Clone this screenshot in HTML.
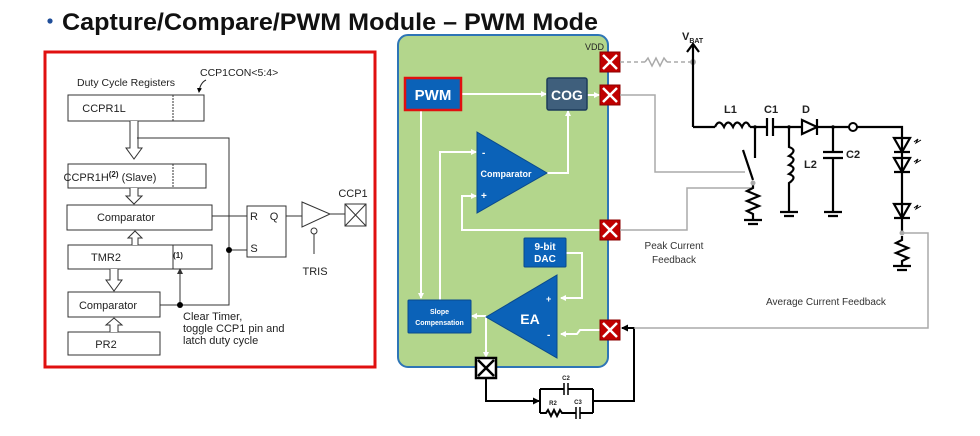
<!DOCTYPE html>
<html><head><meta charset="utf-8"><style>
html,body{margin:0;padding:0;background:#fff;width:980px;height:436px;overflow:hidden}
svg{display:block;font-family:"Liberation Sans",Arial,sans-serif}
</style></head><body>
<svg width="980" height="436" viewBox="0 0 980 436" xmlns="http://www.w3.org/2000/svg">
<defs>
<marker id="wa" markerWidth="6" markerHeight="6" refX="5" refY="3" orient="auto" markerUnits="userSpaceOnUse"><path d="M0,0 L6,3 L0,6z" fill="#fff"/></marker>
<marker id="ba" markerWidth="7" markerHeight="7" refX="6" refY="3.5" orient="auto" markerUnits="userSpaceOnUse"><path d="M0,0 L7,3.5 L0,7z" fill="#000"/></marker>
<marker id="sa" markerWidth="5" markerHeight="5" refX="4" refY="2.5" orient="auto" markerUnits="userSpaceOnUse"><path d="M0,0 L5,2.5 L0,5z" fill="#000"/></marker>
</defs>
<!-- title -->
<circle cx="50" cy="21" r="2.6" fill="#1f4e99"/>
<text x="62" y="30" font-size="24" font-weight="bold" fill="#111" textLength="536" lengthAdjust="spacingAndGlyphs">Capture/Compare/PWM Module – PWM Mode</text>

<!-- left panel -->
<rect x="45" y="52" width="330" height="315" fill="#fff" stroke="#e01010" stroke-width="3"/>
<g font-size="10.5" fill="#222" stroke="none">
<text x="77" y="86">Duty Cycle Registers</text>
<text x="200" y="76">CCP1CON&lt;5:4&gt;</text>
</g>
<path d="M206,80 Q200,83 199,92" fill="none" stroke="#222" stroke-width="1" marker-end="url(#sa)"/>
<g fill="#fff" stroke="#333" stroke-width="1">
<rect x="68" y="95" width="136" height="26"/>
<rect x="68" y="164" width="138" height="24"/>
<rect x="67" y="205" width="145" height="25"/>
<rect x="68" y="245" width="144" height="24"/>
<rect x="68" y="292" width="92" height="25"/>
<rect x="68" y="332" width="92" height="23"/>
<rect x="247" y="206" width="39" height="51"/>
</g>
<line x1="173" y1="95" x2="173" y2="121" stroke="#333" stroke-dasharray="2,1"/>
<line x1="173" y1="164" x2="173" y2="188" stroke="#333" stroke-dasharray="2,1"/>
<line x1="173" y1="245" x2="173" y2="269" stroke="#333"/>
<g font-size="11" fill="#222" text-anchor="middle">
<text x="104" y="112">CCPR1L</text>
<text x="110" y="181">CCPR1H<tspan font-size="8" dy="-4" font-weight="bold">(2)</tspan><tspan dy="4"> (Slave)</tspan></text>
<text x="126" y="221">Comparator</text>
<text x="106" y="261">TMR2</text>
<text x="178" y="258" font-size="8" font-weight="bold">(1)</text>
<text x="108" y="309">Comparator</text>
<text x="106" y="348">PR2</text>
<text x="254" y="220">R</text><text x="274" y="220">Q</text><text x="254" y="252">S</text>
<text x="353" y="197">CCP1</text>
<text x="315" y="275">TRIS</text>
</g>
<g font-size="11" fill="#222"><text x="183" y="320">Clear Timer,</text><text x="183" y="332">toggle CCP1 pin and</text><text x="183" y="344">latch duty cycle</text></g>
<!-- hollow arrows -->
<g fill="#fff" stroke="#333" stroke-width="1">
<path d="M130,121 V148 H126 L134,159 L142,148 H138 V121"/>
<path d="M130,188 V196 H126 L134,204 L142,196 H138 V188"/>
<path d="M132,245 V238 H128 L135,231 L142,238 H138 V245"/>
<path d="M110,269 V280 H106 L114,291 L122,280 H118 V269"/>
<path d="M110,332 V325 H106 L114,318 L122,325 H118 V332"/>
</g>
<g stroke="#333" stroke-width="1" fill="none">
<path d="M137,138 H229 V305 H160"/>
<path d="M212,216 H247"/><path d="M229,250 H247"/>
<path d="M286,216 H302"/><path d="M330,214 H345"/>
<path d="M314,234 V254"/>
<path d="M180,305 V272"/>
<path d="M302,202 L330,214 L302,227z"/>
<circle cx="314" cy="231" r="3"/>
<rect x="345" y="204" width="21" height="22"/><path d="M345,204 L366,226 M366,204 L345,226"/>
</g>
<path d="M177,274 L180,268 L183,274z" fill="#333"/>
<circle cx="229" cy="250" r="3" fill="#000"/><circle cx="180" cy="305" r="3" fill="#000"/>

<!-- green panel -->
<rect x="398" y="35" width="210" height="332" rx="10" fill="#b3d68c" stroke="#2e75b6" stroke-width="2"/>
<text x="585" y="50" font-size="9" fill="#222">VDD</text>
<g stroke="#fff" stroke-width="2" fill="none" marker-end="url(#wa)">
<path d="M461,94 H546"/>
<path d="M587,95 H599"/>
<path d="M547,173 H568 V111"/>
<path d="M421,110 V298"/>
<path d="M440,300 V152 H476"/>
<path d="M600,230 H462 V196 H476"/>
<path d="M566,253 H582 V298 H561"/>
<path d="M600,330 H580 L577,334 H561"/>
<path d="M486,316 H472"/>
<path d="M486,316 V357"/>
</g>
<rect x="405" y="78" width="56" height="32" fill="#0b62b8" stroke="#e01010" stroke-width="2.5"/>
<text x="433" y="100" font-size="15" font-weight="bold" fill="#fff" text-anchor="middle">PWM</text>
<rect x="547" y="78" width="40" height="32" rx="2" fill="#3f5f7c" stroke="#1d3b5a" stroke-width="1.5"/>
<text x="567" y="100" font-size="14" font-weight="bold" fill="#fff" text-anchor="middle">COG</text>
<path d="M477,132 L547,173 L477,213z" fill="#0b62b8" stroke="#0a4a8c"/>
<text x="506" y="177" font-size="9" font-weight="bold" fill="#fff" text-anchor="middle">Comparator</text>
<text x="482" y="156" font-size="10" font-weight="bold" fill="#fff">-</text>
<text x="481" y="199" font-size="10" font-weight="bold" fill="#fff">+</text>
<rect x="524" y="238" width="42" height="29" rx="1" fill="#0b62b8" stroke="#0a4a8c"/>
<text x="545" y="250" font-size="10" font-weight="bold" fill="#fff" text-anchor="middle">9-bit</text>
<text x="545" y="262" font-size="10" font-weight="bold" fill="#fff" text-anchor="middle">DAC</text>
<rect x="408" y="300" width="63" height="33" rx="1" fill="#0b62b8" stroke="#0a4a8c"/>
<text x="439.5" y="314" font-size="7" font-weight="bold" fill="#fff" text-anchor="middle">Slope</text>
<text x="439.5" y="325" font-size="7" font-weight="bold" fill="#fff" text-anchor="middle">Compensation</text>
<path d="M486,317 L557,275 L557,358z" fill="#0b62b8" stroke="#0a4a8c"/>
<text x="530" y="324" font-size="14" font-weight="bold" fill="#fff" text-anchor="middle">EA</text>
<text x="546" y="302" font-size="9" font-weight="bold" fill="#fff">+</text>
<text x="547" y="338" font-size="10" font-weight="bold" fill="#fff">-</text>
<!-- red pads -->
<g fill="#c00000" stroke="#8b0000" stroke-width="1">
<rect x="600" y="52" width="20" height="20"/><rect x="600" y="85" width="20" height="20"/>
<rect x="600" y="220" width="20" height="20"/><rect x="600" y="320" width="20" height="20"/>
</g>
<g stroke="#fff" stroke-width="2.5">
<path d="M603,55 L617,69 M617,55 L603,69"/><path d="M603,88 L617,102 M617,88 L603,102"/>
<path d="M603,223 L617,237 M617,223 L603,237"/><path d="M603,323 L617,337 M617,323 L603,337"/>
</g>
<rect x="476" y="358" width="20" height="20" fill="#fff" stroke="#000" stroke-width="2.5"/>
<path d="M478,360 L494,376 M494,360 L478,376" stroke="#000" stroke-width="2.5"/>
<!-- comp network -->
<g stroke="#000" stroke-width="2" fill="none">
<path d="M486,378 V401 H539" marker-end="url(#ba)"/>
<path d="M593,401 H634 V328 H622" marker-end="url(#ba)"/>
<path d="M540,389 V413 M593,389 V413 M540,389 H564 M568,389 H593 M540,413 H546 L548,410 L551,416 L554,410 L557,416 L560,410 L562,413 H576 M580,413 H593"/>
</g>
<g stroke="#000" stroke-width="1.5"><path d="M564,383 V395 M568,383 V395 M576,407 V419 M580,407 V419"/></g>
<g font-size="6" font-weight="bold" fill="#222" text-anchor="middle"><text x="566" y="380">C2</text><text x="553" y="405">R2</text><text x="578" y="404">C3</text></g>

<!-- right circuit gray lines -->
<g stroke="#aaa" stroke-width="1.5" fill="none">
<path d="M620,62 H645" stroke-dasharray="4,3"/>
<path d="M645,62 L648,58 L652,66 L656,58 L660,66 L664,58 L667,62"/>
<path d="M667,62 H693" stroke-dasharray="4,3"/>
<path d="M620,95 H655 V172 H745"/>
<path d="M620,230 H687 V188 H753"/>
<path d="M902,233 H928 V328 H634"/>
</g>
<circle cx="693" cy="62" r="3" fill="#aaa"/>
<g stroke="#000" stroke-width="2.2" fill="none">
<path d="M693,127 V44 M687,52 L693,44 L699,52"/>
<path d="M693,127 H715 M750,127 H767 M773,127 H802 M817,127 H849 M857,127 H902 V138"/>
<path d="M715,127 q4,-9 9,0 q4,-9 9,0 q4,-9 9,0 q4,-9 8,0"/>
<path d="M767,118 V136 M773,118 V136"/>
<path d="M802,120 L817,127 L802,134z M817,119 V135"/>
<path d="M755,127 V158 M743,150 L753,180"/>
<path d="M753,183 V188 L747,191 L759,196 L747,201 L759,206 L747,211 L753,214 V220 M744,220 H762 M748,224 H758"/>
<path d="M789,127 V147 q9,3 0,9 q9,3 0,9 q9,3 0,9 q9,3 0,9 V212 M780,212 H798 M784,216 H794"/>
<path d="M833,127 V152 M823,152 H843 M823,158 H843 M833,158 V212 M824,212 H842 M828,216 H838"/>
<path d="M902,138 V218 M894,138 H910 L902,152z M894,152 H910 M894,158 H910 L902,172z M894,172 H910 M894,204 H910 L902,218z M894,218 H910 M902,218 V233"/>
<path d="M902,236 V240 L896,243 L908,248 L896,253 L908,258 L902,261 V266 M893,266 H911 M897,270 H907"/>
</g>
<circle cx="853" cy="127" r="4" fill="#fff" stroke="#000" stroke-width="2"/>
<circle cx="755" cy="127" r="1.8" fill="#000"/><circle cx="789" cy="127" r="1.8" fill="#000"/><circle cx="833" cy="127" r="1.8" fill="#000"/>
<circle cx="753" cy="183" r="2.5" fill="#aaa"/><circle cx="902" cy="233" r="2.5" fill="#aaa"/>
<path d="M902,176 V200" stroke="#000" stroke-width="2" stroke-dasharray="1.5,3"/>
<g stroke="#000" stroke-width="1" fill="none">
<path d="M914,142 l4,-3 l-2,4 l5,-3 M914,162 l4,-3 l-2,4 l5,-3 M914,208 l4,-3 l-2,4 l5,-3"/>
</g>
<g font-size="11" font-weight="bold" fill="#222">
<text x="682" y="40">V<tspan font-size="7" dy="3">BAT</tspan></text>
<text x="724" y="113">L1</text><text x="764" y="113">C1</text><text x="802" y="113">D</text>
<text x="846" y="158">C2</text><text x="804" y="168">L2</text>
</g>
<g font-size="10" fill="#333" text-anchor="middle">
<text x="674" y="249">Peak Current</text><text x="674" y="263">Feedback</text>
<text x="826" y="305">Average Current Feedback</text>
</g>
</svg>
</body></html>
